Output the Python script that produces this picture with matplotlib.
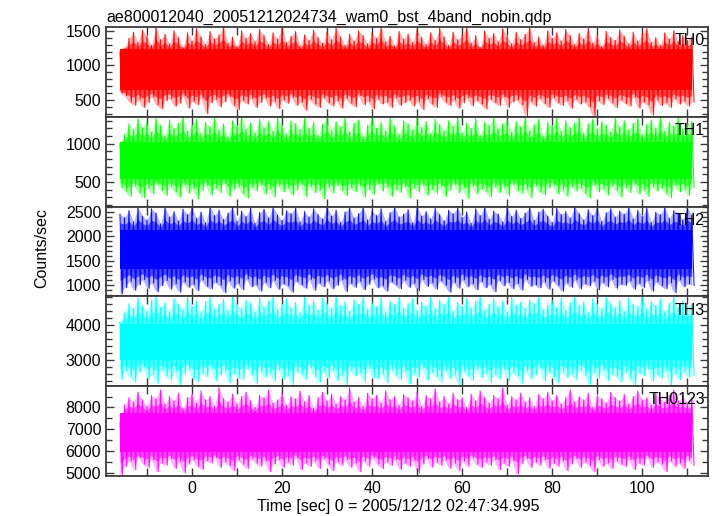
import numpy as np
import matplotlib
matplotlib.use("Agg")
import matplotlib.pyplot as plt
from matplotlib.ticker import MultipleLocator

plt.rcParams['font.family'] = ['Liberation Sans', 'DejaVu Sans']

title = "ae800012040_20051212024734_wam0_bst_4band_nobin.qdp"
xlabel = "Time [sec] 0 = 2005/12/12 02:47:34.995"
ylabel = "Counts/sec"
bands = ["TH0", "TH1", "TH2", "TH3", "TH0123"]
colors = ["#ff0000", "#00ff00", "#0000ff", "#00ffff", "#ff00ff"]

# envelope readings: a peak at t_start + k*t_step, a trough half a step later
t_start = -16.0
t_step = 1.0

th0_hi = [1180, 1250, 1390, 1480, 1330, 1510, 1420, 1290, 1560, 1370, 1450, 1310, 1500, 1400, 1260, 1470,
          1350, 1530, 1410, 1300, 1490, 1380, 1440, 1560, 1320, 1410, 1270, 1500, 1390, 1460, 1340, 1520,
          1430, 1300, 1470, 1380, 1550, 1330, 1420, 1490, 1280, 1440, 1360, 1510, 1400, 1320, 1480, 1370,
          1540, 1410, 1290, 1450, 1350, 1500, 1430, 1310, 1470, 1390, 1560, 1340, 1420, 1280, 1490, 1380,
          1450, 1330, 1520, 1400, 1300, 1470, 1360, 1540, 1410, 1290, 1480, 1370, 1440, 1550, 1320, 1430,
          1260, 1500, 1390, 1460, 1340, 1530, 1420, 1310, 1480, 1370, 1450, 1560, 1330, 1410, 1290, 1500,
          1390, 1470, 1350, 1520, 1430, 1300, 1460, 1380, 1540, 1320, 1440, 1270, 1490, 1400, 1360, 1510,
          1420, 1310, 1480, 1350, 1450, 1530, 1330, 1400, 1290, 1470, 1380, 1500, 1340, 1430, 1360, 1410]
th0_lo = [600, 560, 470, 420, 510, 390, 460, 540, 430, 370, 490, 520, 410, 450, 560, 380,
          480, 430, 530, 300, 460, 510, 400, 470, 550, 420, 360, 490, 440, 520, 390, 460,
          530, 410, 480, 370, 500, 450, 540, 420, 470, 350, 510, 440, 390, 530, 460, 410,
          490, 380, 520, 450, 400, 560, 430, 480, 370, 510, 440, 470, 390, 530, 420, 460,
          500, 410, 480, 360, 520, 440, 390, 550, 470, 420, 500, 380, 460, 530, 410, 490,
          440, 370, 510, 460, 420, 540, 390, 470, 500, 430, 270, 480, 410, 520, 450, 390,
          530, 460, 420, 490, 380, 510, 440, 470, 400, 260, 490, 430, 520, 460, 390, 500,
          450, 410, 540, 380, 470, 430, 280, 500, 420, 460, 390, 520, 440, 480, 410, 470]

th1_hi = [1000, 1120, 1260, 1180, 1330, 1210, 1290, 1150, 1340, 1240, 1100, 1310, 1200, 1270, 1350, 1160,
          1250, 1320, 1130, 1280, 1220, 1340, 1170, 1260, 1090, 1300, 1230, 1350, 1190, 1270, 1140, 1320,
          1210, 1290, 1160, 1340, 1240, 1120, 1300, 1260, 1180, 1330, 1200, 1280, 1110, 1250, 1350, 1170,
          1290, 1220, 1340, 1150, 1270, 1310, 1090, 1240, 1330, 1200, 1280, 1160, 1350, 1230, 1120, 1300,
          1260, 1180, 1340, 1210, 1290, 1130, 1320, 1250, 1170, 1300, 1230, 1350, 1140, 1270, 1200, 1330,
          1110, 1280, 1240, 1340, 1190, 1260, 1310, 1150, 1290, 1220, 1350, 1170, 1250, 1320, 1100, 1280,
          1230, 1340, 1160, 1300, 1210, 1270, 1350, 1130, 1260, 1320, 1190, 1290, 1240, 1150, 1340, 1220,
          1300, 1180, 1270, 1330, 1120, 1250, 1310, 1200, 1350, 1160, 1280, 1230, 1340, 1190, 1260, 1290]
th1_lo = [430, 380, 310, 450, 360, 290, 420, 340, 470, 390, 320, 440, 370, 300, 460, 350,
          410, 280, 390, 450, 330, 420, 360, 480, 310, 400, 440, 350, 290, 430, 380, 460,
          340, 410, 300, 450, 370, 420, 330, 390, 470, 310, 440, 360, 400, 280, 430, 350,
          460, 390, 320, 420, 370, 450, 300, 410, 340, 480, 380, 430, 310, 400, 360, 440,
          290, 420, 370, 460, 330, 400, 350, 440, 310, 390, 470, 360, 420, 280, 450, 340,
          410, 380, 300, 440, 360, 430, 320, 470, 390, 350, 410, 290, 450, 370, 330, 420,
          460, 340, 400, 310, 440, 380, 420, 350, 290, 460, 370, 410, 330, 450, 390, 300,
          430, 360, 470, 340, 400, 310, 440, 380, 420, 350, 290, 450, 370, 410, 320, 430]

th2_hi = [2450, 2380, 2520, 2290, 2590, 2410, 2330, 2560, 2470, 2250, 2600, 2390, 2500, 2310, 2550, 2440,
          2580, 2360, 2490, 2270, 2600, 2420, 2530, 2340, 2470, 2590, 2300, 2510, 2400, 2570, 2260, 2480,
          2550, 2370, 2600, 2430, 2320, 2520, 2460, 2580, 2290, 2500, 2390, 2560, 2440, 2350, 2600, 2410,
          2530, 2280, 2490, 2580, 2370, 2460, 2600, 2330, 2510, 2420, 2560, 2300, 2480, 2590, 2390, 2450,
          2540, 2270, 2600, 2410, 2500, 2350, 2570, 2440, 2310, 2530, 2460, 2590, 2380, 2490, 2260, 2560,
          2420, 2600, 2340, 2510, 2450, 2290, 2580, 2400, 2530, 2360, 2470, 2600, 2320, 2490, 2550, 2410,
          2280, 2570, 2440, 2500, 2370, 2600, 2460, 2330, 2540, 2420, 2590, 2300, 2480, 2560, 2390, 2510,
          2450, 2600, 2350, 2530, 2400, 2570, 2280, 2490, 2440, 2590, 2360, 2520, 2470, 2330, 2580, 2430]
th2_lo = [820, 950, 1080, 900, 1010, 1120, 940, 1050, 870, 990, 1100, 920, 1030, 860, 1070, 960,
          1020, 890, 1110, 980, 930, 1060, 1000, 850, 1090, 940, 1040, 910, 1130, 970, 1010, 880,
          1060, 950, 1100, 920, 1030, 990, 860, 1080, 1010, 940, 1120, 900, 1050, 970, 1090, 930,
          1000, 1110, 870, 1040, 960, 1080, 910, 1020, 1130, 950, 990, 880, 1070, 1010, 930, 1100,
          960, 1040, 890, 1120, 980, 1050, 920, 1090, 1000, 860, 1060, 940, 1110, 970, 1030, 910,
          1080, 950, 1020, 870, 1100, 990, 1060, 930, 1040, 900, 1120, 980, 1010, 950, 1070, 920,
          1090, 1000, 880, 1050, 960, 1110, 930, 1030, 990, 1080, 910, 1060, 970, 1120, 940, 1020,
          1000, 1090, 920, 1040, 960, 1100, 880, 1070, 990, 930, 1050, 850, 1110, 970, 1030, 1000]

th3_hi = [4100, 4350, 4620, 4480, 4790, 4560, 4400, 4720, 4830, 4510, 4650, 4380, 4770, 4600, 4450, 4820,
          4540, 4700, 4360, 4680, 4800, 4470, 4610, 4750, 4420, 4830, 4580, 4490, 4730, 4640, 4380, 4790,
          4520, 4690, 4830, 4440, 4600, 4760, 4500, 4660, 4350, 4810, 4570, 4710, 4430, 4780, 4620, 4480,
          4830, 4550, 4680, 4400, 4740, 4600, 4820, 4460, 4650, 4530, 4790, 4370, 4700, 4590, 4830, 4490,
          4620, 4760, 4410, 4680, 4550, 4810, 4470, 4720, 4600, 4830, 4390, 4660, 4540, 4770, 4500, 4700,
          4830, 4430, 4610, 4750, 4520, 4690, 4380, 4800, 4570, 4660, 4480, 4740, 4620, 4830, 4450, 4580,
          4710, 4500, 4790, 4420, 4650, 4830, 4560, 4680, 4360, 4760, 4590, 4470, 4820, 4630, 4510, 4720,
          4400, 4780, 4600, 4540, 4830, 4460, 4690, 4570, 4750, 4380, 4640, 4810, 4500, 4700, 4560, 4620]
th3_lo = [2450, 2700, 2520, 2380, 2650, 2800, 2460, 2590, 2340, 2720, 2550, 2430, 2680, 2300, 2610, 2750,
          2480, 2390, 2640, 2530, 2780, 2410, 2570, 2700, 2360, 2620, 2500, 2440, 2760, 2580, 2330, 2690,
          2520, 2630, 2400, 2740, 2470, 2560, 2310, 2680, 2600, 2450, 2790, 2530, 2370, 2660, 2490, 2720,
          2420, 2580, 2300, 2700, 2550, 2640, 2390, 2760, 2510, 2460, 2620, 2350, 2730, 2570, 2440, 2680,
          2320, 2600, 2500, 2780, 2430, 2650, 2540, 2380, 2710, 2470, 2590, 2300, 2690, 2560, 2420, 2750,
          2510, 2640, 2360, 2590, 2480, 2730, 2400, 2620, 2550, 2330, 2700, 2460, 2580, 2770, 2410, 2660,
          2530, 2350, 2690, 2500, 2620, 2440, 2740, 2570, 2310, 2650, 2490, 2720, 2420, 2600, 2540, 2380,
          2680, 2470, 2300, 2630, 2560, 2750, 2400, 2590, 2500, 2700, 2280, 2610, 2450, 2680, 2520, 2560]

th0123_hi = [7300, 8100, 8450, 8250, 8700, 8350, 8050, 8550, 8400, 8800, 8150, 8500, 8300, 8650, 7950, 8450,
             8600, 8200, 8750, 8350, 8500, 8050, 8900, 8400, 8250, 8600, 8150, 8500, 8700, 8300, 8000, 8550,
             8450, 8800, 8200, 8350, 8650, 8100, 8500, 8400, 8750, 8250, 8550, 7950, 8450, 8700, 8300, 8600,
             8150, 8500, 8350, 8900, 8250, 8450, 8050, 8650, 8400, 8550, 8200, 8750, 8350, 8500, 8100, 8600,
             8450, 8300, 8700, 8050, 8550, 8400, 8850, 8250, 8500, 8150, 8650, 8350, 8450, 8000, 8600, 8300,
             8750, 8450, 8200, 8550, 8400, 8900, 8100, 8500, 8350, 8650, 8250, 8450, 8050, 8600, 8400, 8700,
             8300, 8550, 8150, 8450, 8800, 8250, 8500, 8350, 8650, 8000, 8550, 8400, 8200, 8700, 8450, 8300,
             8600, 8150, 8500, 8750, 8350, 8450, 8100, 8650, 8400, 8250, 8550, 8800, 8300, 8500, 8200, 8450]
th0123_lo = [4900, 5300, 5550, 5150, 5700, 5400, 5250, 5600, 5050, 5450, 5350, 5650, 5200, 5500, 5000, 5400,
             5600, 5300, 5150, 5550, 5450, 5700, 5250, 5500, 5350, 5100, 5600, 5400, 5200, 5650, 5450, 5300,
             5550, 5050, 5400, 5600, 5250, 5500, 5350, 5700, 5150, 5450, 5300, 5550, 5200, 5650, 5400, 5100,
             5500, 5350, 5600, 5250, 5450, 5050, 5550, 5300, 5700, 5400, 5200, 5500, 5350, 5600, 5150, 5450,
             5300, 5550, 5000, 5400, 5650, 5250, 5500, 5350, 5600, 5200, 5450, 5100, 5550, 5300, 5700, 5400,
             5250, 5500, 5350, 5600, 5150, 5450, 5300, 5550, 4950, 5400, 5650, 5250, 5500, 5350, 5600, 5200,
             5450, 5300, 5550, 5100, 5400, 5650, 5250, 5500, 5350, 5050, 5600, 5300, 5450, 5200, 5550, 5400,
             5300, 5600, 5150, 5450, 5350, 5700, 5250, 5500, 5400, 5050, 5550, 5300, 5450, 5200, 5600, 5350]

# dense central band of each light curve
core_lo = [640, 540, 1330, 3000, 5950]
core_hi = [1230, 1020, 2130, 4050, 7750]

his = [th0_hi, th1_hi, th2_hi, th3_hi, th0123_hi]
los = [th0_lo, th1_lo, th2_lo, th3_lo, th0123_lo]

ylims = [(255, 1555), (177, 1352), (774, 2603), (2257, 4829), (4856, 8975)]
ymajor = [500, 500, 500, 1000, 1000]
yminor = [100, 100, 100, 200, 500]
xlim = (-19.1, 114.6)

W, H = 717, 516
fig = plt.figure(figsize=(W / 100, H / 100), dpi=100)
left, right = 106 / W, 708 / W
top_px, bot_px = 27, 476
ph = (bot_px - top_px) / 5
frame_col = "#3a3a3a"

for i in range(5):
    y0 = 1 - (top_px + ph * (i + 1)) / H
    ax = fig.add_axes([left, y0, right - left, ph / H])
    hi = np.array(his[i], dtype=float)
    lo = np.array(los[i], dtype=float)
    t = t_start + t_step * np.arange(len(hi))
    xs = np.column_stack([t, t + t_step / 2]).ravel()
    ys = np.column_stack([hi, lo]).ravel()
    c = colors[i]
    # graded density: faint outer fuzz, denser inner fuzz, solid core
    ax.fill_between(t, lo, hi, color=c, alpha=0.3, lw=0)
    mid_hi = core_hi[i] + 0.45 * (hi - core_hi[i])
    mid_lo = core_lo[i] + 0.45 * (lo - core_lo[i])
    ax.fill_between(t, mid_lo, mid_hi, color=c, alpha=0.6, lw=0)
    ax.fill_between(t, core_lo[i], core_hi[i], color=c, lw=0)
    ax.plot(xs, ys, color=c, lw=0.8, alpha=0.9)
    ax.set_xlim(*xlim)
    ax.set_ylim(*ylims[i])
    ax.yaxis.set_major_locator(MultipleLocator(ymajor[i]))
    ax.yaxis.set_minor_locator(MultipleLocator(yminor[i]))
    ax.xaxis.set_major_locator(MultipleLocator(20))
    ax.xaxis.set_minor_locator(MultipleLocator(10))
    ax.tick_params(which='both', direction='in', top=True, right=True, color=frame_col,
                   labelsize=11.5)
    ax.tick_params(which='major', length=6, width=1)
    ax.tick_params(which='minor', length=4, width=1)
    ax.tick_params(axis='x', which='minor', length=6)
    for s in ax.spines.values():
        s.set_color(frame_col)
        s.set_linewidth(1.3)
    if i < 4:
        ax.tick_params(axis='x', labelbottom=False)
    ax.text(0.995, 0.93, bands[i], transform=ax.transAxes, ha='right', va='top', fontsize=11.5)
    if i == 0:
        ax.set_title(title, loc='left', fontsize=11.5, pad=4)

fig.text(398 / W, 1 - 506 / H, xlabel, ha='center', va='center', fontsize=11.5)
fig.text(42 / W, 1 - 248 / H, ylabel, rotation=90, ha='center', va='center', fontsize=11.5)
fig.savefig("out.png", dpi=100)
